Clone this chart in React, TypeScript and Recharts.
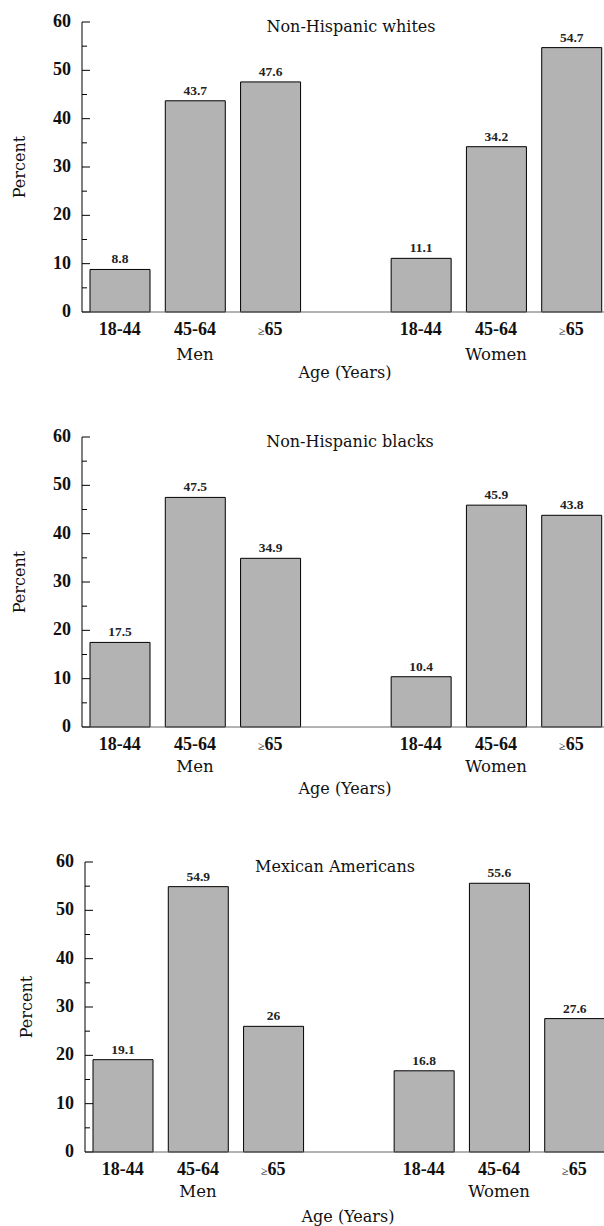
import { BarChart, Bar, XAxis, YAxis, LabelList } from "recharts";

// age groups per slot; the blank slot separates men from women
const AGE_GROUPS = ["18-44", "45-64", "≥65", "", "18-44", "45-64", "≥65"];
const SEX_GROUPS = ["", "Men", "", "", "", "Women", ""];

const WHITES = [8.8, 43.7, 47.6, null, 11.1, 34.2, 54.7];
const BLACKS = [17.5, 47.5, 34.9, null, 10.4, 45.9, 43.8];
const MEXICANS = [19.1, 54.9, 26, null, 16.8, 55.6, 27.6];

const Y_TICKS = [0, 5, 10, 15, 20, 25, 30, 35, 40, 45, 50, 55, 60];

const SERIF = '"DejaVu Serif", serif';
const TICK_FONT = '"Liberation Serif", serif';

const PANELS = [
  { title: "Non-Hispanic whites", values: WHITES, top: 0, left: 0, titleX: 351, sexDy: 42, ageDy: 61 },
  { title: "Non-Hispanic blacks", values: BLACKS, top: 415, left: 0, titleX: 350, sexDy: 39, ageDy: 62 },
  { title: "Mexican Americans", values: MEXICANS, top: 840, left: 3, titleX: 335, sexDy: 38.5, ageDy: 65 },
];

function YTick({ x, y, payload }: any) {
  const major = payload.value % 10 === 0;
  return (
    <g>
      <line x1={x + 11} x2={x + 11 + (major ? 8 : 5)} y1={y} y2={y} stroke="#000" strokeWidth={1} />
      {major && (
        <text x={x} y={y + 5} textAnchor="end" fontFamily={TICK_FONT} fontWeight="bold" fontSize={18} fill="#111">
          {payload.value}
        </text>
      )}
    </g>
  );
}

function makeXTick(sexDy: number) {
  return function XTick({ x, y, payload }: any) {
    const i = payload.value;
    const age = AGE_GROUPS[i];
    const sex = SEX_GROUPS[i];
    if (!age) return <g />;
    const ge = age.startsWith("≥");
    return (
      <g>
        <text x={x} y={y + 23} textAnchor="middle" fontFamily={TICK_FONT} fontWeight="bold" fontSize={18} fill="#111">
          {ge ? (
            <>
              <tspan fontSize={12} fontWeight="normal">≥</tspan>
              <tspan>{age.slice(1)}</tspan>
            </>
          ) : (
            age
          )}
        </text>
        {sex && (
          <text x={x} y={y + sexDy + 6} textAnchor="middle" fontFamily={SERIF} fontSize={16.5} fill="#111">
            {sex}
          </text>
        )}
      </g>
    );
  };
}

function Panel({ title, values, top, left, titleX, sexDy, ageDy }: any) {
  const data = AGE_GROUPS.map((age, i) => ({ key: i, age, value: values[i] }));
  const plotTop = 22;
  const zero = 312;
  return (
    <div style={{ position: "absolute", top, left, width: 620, height: 400 }}>
      <BarChart width={620} height={400} data={data} margin={{ top: 22, right: 11, bottom: 28, left: 0 }}>
        <XAxis
          dataKey="key"
          type="category"
          interval={0}
          tickLine={false}
          tickSize={0}
          tickMargin={0}
          height={60}
          axisLine={{ stroke: "#666", strokeWidth: 1 }}
          tick={makeXTick(sexDy)}
        />
        <YAxis
          width={82}
          domain={[0, 60]}
          ticks={Y_TICKS}
          interval={0}
          tickLine={false}
          tickSize={0}
          tickMargin={11}
          axisLine={{ stroke: "#000", strokeWidth: 1 }}
          tick={<YTick />}
        />
        <Bar dataKey="value" fill="#b3b3b3" stroke="#000" strokeWidth={1} barSize={60} isAnimationActive={false}>
          <LabelList
            dataKey="value"
            position="top"
            offset={6}
            style={{ fontFamily: TICK_FONT, fontWeight: "bold", fontSize: 13.5, fill: "#222" }}
          />
        </Bar>
      </BarChart>
      <div
        style={{
          position: "absolute",
          left: titleX - left - 150,
          top: plotTop + 5 - 10,
          width: 300,
          lineHeight: "20px",
          textAlign: "center",
          fontFamily: SERIF,
          fontSize: 16,
          color: "#111",
        }}
      >
        {title}
      </div>
      <div
        style={{
          position: "absolute",
          left: 20 + (left ? 4 : 0) - 50,
          top: (plotTop + zero) / 2 - 10,
          width: 100,
          lineHeight: "20px",
          textAlign: "center",
          fontFamily: SERIF,
          fontSize: 16,
          color: "#111",
          transform: "rotate(-90deg)",
        }}
      >
        Percent
      </div>
      <div
        style={{
          position: "absolute",
          left: 345 - 100,
          top: zero + ageDy - 10,
          width: 200,
          lineHeight: "20px",
          textAlign: "center",
          fontFamily: SERIF,
          fontSize: 16,
          color: "#111",
        }}
      >
        Age (Years)
      </div>
    </div>
  );
}

export default function App() {
  return (
    <div
      style={{
        position: "absolute",
        top: 0,
        left: 0,
        width: 604,
        height: 1226,
        overflow: "hidden",
        background: "#fff",
      }}
    >
      {PANELS.map((p) => (
        <Panel key={p.title} {...p} />
      ))}
    </div>
  );
}
